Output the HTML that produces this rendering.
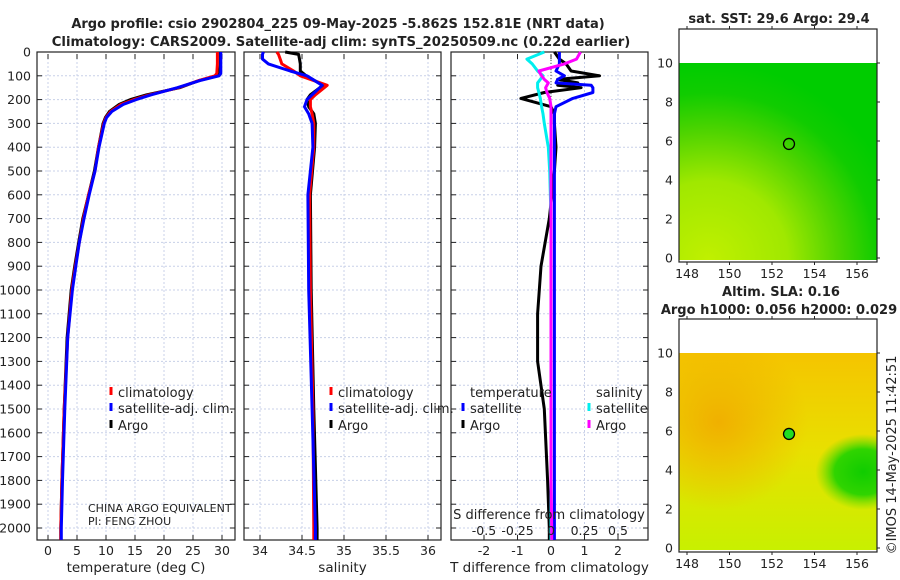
<!DOCTYPE html>
<html><head><meta charset="utf-8"><style>
body{margin:0;background:#fff;}
svg{display:block;font-family:"DejaVu Sans","Liberation Sans",sans-serif;}
</style></head><body>
<svg id="c" width="900" height="580" viewBox="0 0 900 580" xmlns="http://www.w3.org/2000/svg">
<defs>
<radialGradient id="sstg" cx="0.15" cy="1.0" r="1.0">
<stop offset="0" stop-color="#c0f000"/><stop offset="0.4" stop-color="#a0e800"/><stop offset="0.65" stop-color="#50d400"/><stop offset="0.85" stop-color="#10cc00"/><stop offset="1" stop-color="#00cc00"/></radialGradient>
<radialGradient id="slaOr" cx="0.2" cy="0.35" r="0.45"><stop offset="0" stop-color="#f0b000"/><stop offset="1" stop-color="#f0b000" stop-opacity="0"/></radialGradient>
<linearGradient id="slaTop" x1="0" y1="0" x2="0" y2="1"><stop offset="0" stop-color="#f5c400"/><stop offset="0.5" stop-color="#e8e000"/><stop offset="1" stop-color="#c8f000"/></linearGradient>
<radialGradient id="slaG" cx="0.5" cy="0.5" r="0.5"><stop offset="0" stop-color="#10cc00"/><stop offset="0.6" stop-color="#30d400"/><stop offset="1" stop-color="#60dc00" stop-opacity="0"/></radialGradient>
<clipPath id="clipTop"><rect x="679" y="63" width="198" height="197"/></clipPath>
<clipPath id="clipBot"><rect x="679" y="353" width="198" height="197"/></clipPath>
</defs>
</svg>
<script>
const depthT=[0,50,90,100,120,150,180,200,220,250,275,300,400,500,600,700,800,900,1000,1200,1500,1800,2000,2050];
const tempArgo=[29.7,29.7,29.6,29.3,26,22.7,17,14.2,12.3,10.6,9.9,9.5,8.7,8.0,7.0,6.0,5.3,4.6,4.0,3.3,2.8,2.4,2.2,2.2];
const tempClim=[29.2,29.2,29.1,28.8,26,22.5,17.5,14.8,12.6,10.8,10.0,9.6,8.7,8.1,7.0,6.1,5.4,4.7,4.1,3.4,2.8,2.4,2.2,2.2];
const tempSat=[29.8,29.8,29.8,29.5,26.2,22.3,17.8,15.2,13.0,11.0,10.1,9.7,8.8,8.1,7.1,6.2,5.4,4.8,4.2,3.4,2.9,2.5,2.3,2.3];
const depthS=[0,10,30,50,80,100,140,180,200,230,260,300,400,600,1000,1500,2000,2050];
const salArgo=[34.3,34.46,34.47,34.48,34.48,34.55,34.75,34.6,34.56,34.58,34.64,34.66,34.65,34.6,34.61,34.64,34.68,34.68];
const salClim=[34.2,34.22,34.24,34.26,34.4,34.48,34.8,34.66,34.6,34.6,34.62,34.64,34.64,34.59,34.6,34.63,34.64,34.64];
const salSat=[34.04,34.03,34.03,34.1,34.36,34.56,34.74,34.62,34.56,34.53,34.58,34.62,34.63,34.57,34.58,34.62,34.66,34.66];
const depthD=[0,30,50,80,100,115,130,140,150,170,195,230,260,300,400,500,700,900,1100,1300,1500,1800,2000,2050];
const tdiffArgo=[0.1,0.25,0.45,0.6,1.45,0.2,0.8,0.2,0.9,-0.2,-0.9,0,0.1,0.1,0.15,0.1,-0.05,-0.3,-0.4,-0.4,-0.2,-0.1,-0.05,-0.05];
const tdiffSat=[0.25,0.25,0.25,0.15,0.4,0.2,0.15,1.2,1.25,1.25,0.65,0.15,0.1,0.1,0.1,0.1,0.1,0.1,0.1,0.1,0.1,0.1,0.1,0.1];
const sdiffSat=[-0.05,-0.18,-0.14,-0.1,-0.06,-0.08,-0.1,-0.1,-0.1,-0.09,-0.08,-0.07,-0.06,-0.05,-0.02,-0.01,0,0,0,0,0,0,0,0];
const sdiffArgo=[0.22,0.19,0.1,-0.09,-0.07,-0.05,-0.02,-0.03,-0.04,-0.03,-0.01,0,0,0,0,0,0,0,0,0,0,0,0.005,0.005];
const depthTicks=[0,100,200,300,400,500,600,700,800,900,1000,1100,1200,1300,1400,1500,1600,1700,1800,1900,2000];
const tempTicks=[0,5,10,15,20,25,30];
const salTicks=[34,34.5,35,35.5,36];
const tdTicks=[-2,-1,0,1,2];
const sdTicks=["-0.5","-0.25","0","0.25","0.5"];
const sdTickVals=[-0.5,-0.25,0,0.25,0.5];
const lonTicks=[148,150,152,154,156];
const latTicks=[0,2,4,6,8,10];
const argoLon=152.8, argoLat=5.85;

const svg=document.getElementById('c');
const NS='http://www.w3.org/2000/svg';
function mk(tag,at,parent){const e=document.createElementNS(NS,tag);for(const k in at)e.setAttribute(k,at[k]);(parent||svg).appendChild(e);return e;}
function txt(x,y,s,at){const e=mk('text',Object.assign({x:x,y:y,'font-size':12,fill:'#222'},at||{}));e.textContent=s;return e;}
const yD=d=>52+d*0.238;
const PT=54, PB=540;
const panels=[
 {x0:37,x1:235,name:'temperature-panel',xs:v=>48+v*5.8,ticks:tempTicks,title:'temperature (deg C)'},
 {x0:244,x1:441,name:'salinity-panel',xs:v=>260+(v-34)*84,ticks:salTicks,title:'salinity'},
 {x0:451,x1:648,name:'difference-panel',xs:v=>551+v*33.5,ticks:tdTicks,title:'T difference from climatology'}
];
panels.forEach((p,i)=>{
 const g=mk('g',{});
 
 
 depthTicks.forEach(d=>{mk('line',{x1:p.x0,x2:p.x1,y1:yD(d),y2:yD(d),stroke:'#c8d0e8','stroke-dasharray':'2,2','stroke-width':1},g);
  mk('line',{x1:p.x0,x2:p.x0+5,y1:yD(d),y2:yD(d),stroke:'#222'},g);mk('line',{x1:p.x1-5,x2:p.x1,y1:yD(d),y2:yD(d),stroke:'#222'},g);});
 p.ticks.forEach(v=>{const x=p.xs(v);mk('line',{x1:x,x2:x,y1:PT,y2:PB,stroke:'#c8d0e8','stroke-dasharray':'2,2'},g);
  mk('line',{x1:x,x2:x,y1:PB-5,y2:PB,stroke:'#222'},g);mk('line',{x1:x,x2:x,y1:PT,y2:PT+5,stroke:'#222'},g);
  const t=txt(x,555,String(v),{'text-anchor':'middle','font-size':12.5});
  });
 mk('rect',{x:p.x0,y:PT-2,width:p.x1-p.x0,height:PB-PT+2,fill:'none',stroke:'#222','stroke-width':1.2},g);
 const at=txt((p.x0+p.x1)/2,572,p.title,{'text-anchor':'middle','font-size':13.5});
 
});
depthTicks.forEach(d=>{const t=txt(31,yD(d)+4.5,String(d),{'text-anchor':'end','font-size':12.5});
 });

function line(xs,vals,depths,color,name,w){
 const pts=vals.map((v,i)=>xs(v).toFixed(1)+','+yD(depths[i]).toFixed(1)).join(' ');
 const e=mk('polyline',{points:pts,fill:'none',stroke:color,'stroke-width':w||3,'stroke-linejoin':'round'});
 
 
}
const P=panels;
line(P[0].xs,tempArgo,depthT,'#000','temp-argo-line');
line(P[0].xs,tempClim,depthT,'#f00','temp-climatology-line');
line(P[0].xs,tempSat,depthT,'#00f','temp-satellite-line');
line(P[1].xs,salArgo,depthS,'#000','salinity-argo-line');
line(P[1].xs,salClim,depthS,'#f00','salinity-climatology-line');
line(P[1].xs,salSat,depthS,'#00f','salinity-satellite-line');
mk('line',{x1:551,x2:551,y1:PT,y2:PB,stroke:'#444','stroke-dasharray':'1,2'});
line(P[2].xs,tdiffArgo,depthD,'#000','tdiff-argo-line');
line(P[2].xs,tdiffSat,depthD,'#00f','tdiff-satellite-line');
const sx=v=>551+v*134;
line(sx,sdiffSat,depthD,'#0ee','sdiff-satellite-line');
line(sx,sdiffArgo,depthD,'#f0f','sdiff-argo-line');

function leg(x,y,color,label,name){
 const g=mk('g',{});
 mk('line',{x1:x,x2:x,y1:y-10,y2:y-2,stroke:color,'stroke-width':3},g);
 const t=txt(x+7,y,label,{'font-size':13});g.appendChild(t);
}
[[111,0],[331,1]].forEach(([x])=>{leg(x,397,'#f00','climatology','legend-climatology');leg(x,413,'#00f','satellite-adj. clim.','legend-satellite');leg(x,430,'#000','Argo','legend-argo');});
txt(470,397,'temperature',{'font-size':13});
leg(463,413,'#00f','satellite','legend-t-satellite');leg(463,430,'#000','Argo','legend-t-argo');
txt(596,397,'salinity',{'font-size':13});
leg(589,413,'#0ee','satellite','legend-s-satellite');leg(589,430,'#f0f','Argo','legend-s-argo');
txt(88,512,'CHINA ARGO EQUIVALENT',{'font-size':11});
txt(88,525,'PI: FENG ZHOU',{'font-size':11});
txt(549,519,'S difference from climatology',{'font-size':13,'text-anchor':'middle'});
sdTicks.forEach((s,i)=>txt(sx(sdTickVals[i]),535,s,{'font-size':12.5,'text-anchor':'middle'}));
const t1=txt(338,28,'Argo profile: csio 2902804_225 09-May-2025 -5.862S 152.81E (NRT data)',{'font-size':13,'font-weight':'bold','text-anchor':'middle'});

txt(341,46,'Climatology: CARS2009. Satellite-adj clim: synTS_20250509.nc (0.22d earlier)',{'font-size':13.2,'font-weight':'bold','text-anchor':'middle'});

// maps
function map(top,latTop,lat0,kind,name,clip){
 const lx=v=>687+(v-148)*21.25, ly=v=>lat0+(latTop-lat0)*v/10;
 const g=mk('g',{});
 const x0=679,x1=877,yb=lat0+4;
 const f=mk('g',{'clip-path':'url(#'+clip+')'},g);
 if(kind==='sst'){
  mk('rect',{x:x0,y:latTop,width:x1-x0,height:lat0+2-latTop,fill:'url(#sstg)'},f);
 }else{
  mk('rect',{x:x0,y:latTop,width:x1-x0,height:lat0+2-latTop,fill:'url(#slaTop)'},f);
  mk('rect',{x:x0,y:latTop,width:x1-x0,height:lat0+2-latTop,fill:'url(#slaOr)'},f);
  mk('ellipse',{cx:lx(156.3),cy:ly(3.9),rx:48,ry:38,fill:'url(#slaG)'},f);
 }
 mk('rect',{x:x0,y:top,width:x1-x0,height:yb-top,fill:'none',stroke:'#222','stroke-width':1.2},g);
 latTicks.forEach(v=>{txt(673,ly(v)+4.5,String(v),{'font-size':12.5,'text-anchor':'end'});
  mk('line',{x1:x1,x2:x1+3,y1:ly(v),y2:ly(v),stroke:'#222'},g);});
 lonTicks.forEach(v=>{txt(lx(v),yb+16,String(v),{'font-size':12.5,'text-anchor':'middle'});
  mk('line',{x1:lx(v),x2:lx(v),y1:yb,y2:yb+3,stroke:'#222'},g);mk('line',{x1:lx(v),x2:lx(v),y1:top,y2:top-3,stroke:'#222'},g);});
 const c=mk('circle',{cx:lx(argoLon),cy:ly(argoLat),r:5.5,fill:kind==='sst'?'none':'#22dd22',stroke:'#000','stroke-width':1.3},g);
 
 
}
map(29,63,258,'sst','sst-map','clipTop');
map(319,353,548,'sla','sla-map','clipBot');
txt(779,23,'sat. SST: 29.6 Argo: 29.4',{'font-size':13,'font-weight':'bold','text-anchor':'middle'});
txt(781,296,'Altim. SLA: 0.16',{'font-size':13,'font-weight':'bold','text-anchor':'middle'});
txt(779,314,'Argo h1000: 0.056 h2000: 0.029',{'font-size':13,'font-weight':'bold','text-anchor':'middle'});
txt(0,0,'©IMOS 14-May-2025 11:42:51',{'font-size':13,'text-anchor':'middle',transform:'translate(896,455) rotate(-90)'});
</script>
</body></html>
